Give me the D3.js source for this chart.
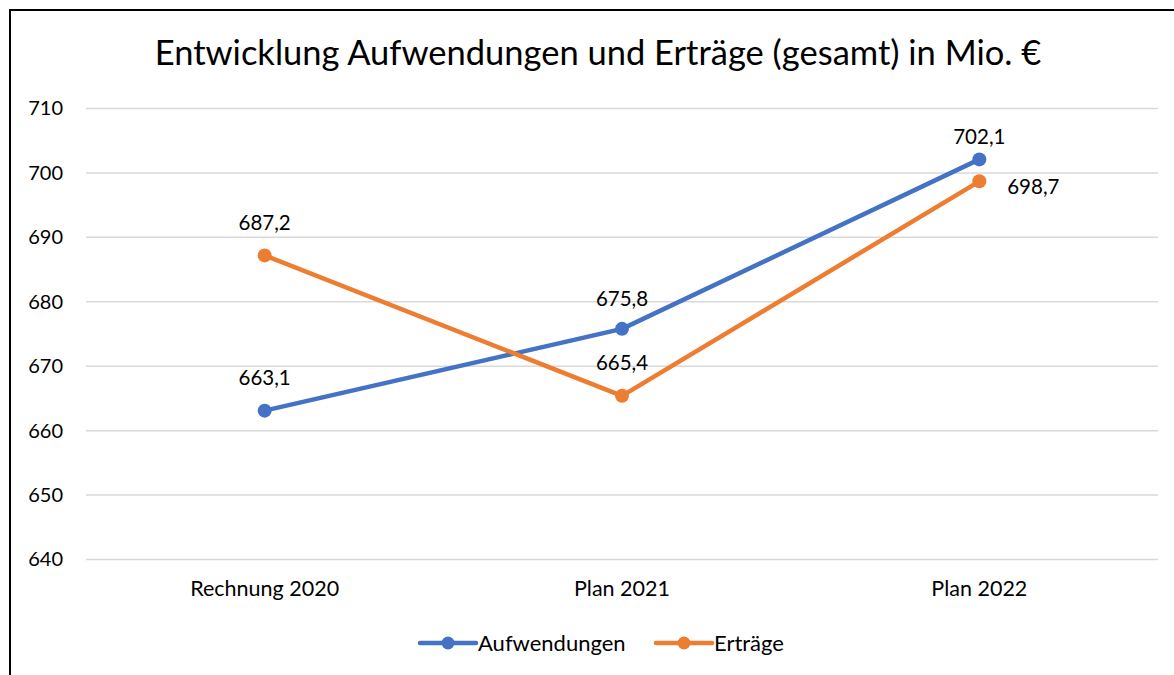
<!DOCTYPE html>
<html><head><meta charset="utf-8">
<script src="https://cdn.jsdelivr.net/npm/d3@7"></script>
<style>body{margin:0;background:#fff}svg{display:block}text{font-family:Lato,"Open Sans",sans-serif;fill:#000}</style>
</head><body>
<svg id="c" width="1174" height="675"></svg>
<script>
const categories = ["Rechnung 2020","Plan 2021","Plan 2022"];
const aufwendungen = [663.1, 675.8, 702.1];
const ertraege = [687.2, 665.4, 698.7];
const yTicks = [640,650,660,670,680,690,700,710];
const seriesNames = ["Aufwendungen","Erträge"];
const colors = ["#4472C4","#ED7D31"];

const svg = d3.select("#c");
// border
svg.append("path").attr("d","M10,675 L10,10 L1174,10").attr("fill","none").attr("stroke","#000").attr("stroke-width",2);

const x = d3.scaleBand().domain(categories).range([86,1158]);
const y = d3.scaleLinear().domain([640,710]).range([559.5,108.5]);

svg.append("text").attr("x",598).attr("y",65).attr("text-anchor","middle").attr("font-size",34.5).text("Entwicklung Aufwendungen und Erträge (gesamt) in Mio. €");

const grid = svg.append("g");
grid.selectAll("line").data(yTicks).join("line")
 .attr("x1",86).attr("x2",1158).attr("y1",d=>y(d)).attr("y2",d=>y(d))
 .attr("stroke","#d9d9d9").attr("stroke-width",1.5);

const yAxis = svg.append("g").attr("transform","translate(63,0)")
 .call(d3.axisLeft(y).tickValues(yTicks).tickSize(0).tickPadding(0).tickFormat(d3.format("d")));
yAxis.select(".domain").remove();
yAxis.selectAll("text").attr("font-size",20).attr("font-family","Lato").attr("fill","#000");

const xAxis = svg.append("g").attr("transform","translate(0,559.5)")
 .call(d3.axisBottom(x).tickSize(0).tickPadding(26));
xAxis.select(".domain").remove();
xAxis.selectAll("text").attr("font-size",21.5).attr("font-family","Lato").attr("fill","#000").attr("dy","0.5em");

const fmt = v => d3.format(".1f")(v).replace(".",",");
const cx = c => x(c)+x.bandwidth()/2;
const series = [aufwendungen, ertraege];
const line = d3.line().x((d,i)=>cx(categories[i])).y(d=>y(d));
series.forEach((s,k)=>{
  svg.append("path").attr("d",line(s)).attr("fill","none").attr("stroke",colors[k]).attr("stroke-width",4.5).attr("stroke-linejoin","round");
  svg.append("g").selectAll("circle").data(s).join("circle")
   .attr("cx",(d,i)=>cx(categories[i])).attr("cy",d=>y(d)).attr("r",7).attr("fill",colors[k]);
});
// labels
const labelPos = [
  [{dx:0,dy:-33,a:"middle"},{dx:0,dy:-30,a:"middle"},{dx:0,dy:-23,a:"middle"}],
  [{dx:0,dy:-33,a:"middle"},{dx:0,dy:-33,a:"middle"},{dx:54,dy:6,a:"middle"}]
];
series.forEach((s,k)=>{
  svg.append("g").selectAll("text").data(s).join("text")
   .attr("x",(d,i)=>cx(categories[i])+labelPos[k][i].dx)
   .attr("y",(d,i)=>y(d)+labelPos[k][i].dy)
   .attr("dy","0.35em").attr("text-anchor","middle").attr("font-size",20.5).text(fmt);
});
// legend
const legend = svg.append("g");
const lx = [420, 656];
seriesNames.forEach((n,k)=>{
  const g = legend.append("g").attr("transform",`translate(${lx[k]},643)`);
  g.append("line").attr("x1",0).attr("x2",56).attr("stroke",colors[k]).attr("stroke-width",4.5).attr("stroke-linecap","round");
  g.append("circle").attr("cx",28).attr("r",6.5).attr("fill",colors[k]);
  g.append("text").attr("x",58).attr("dy","0.35em").attr("font-size",22).text(n);
});
</script>
</body></html>
